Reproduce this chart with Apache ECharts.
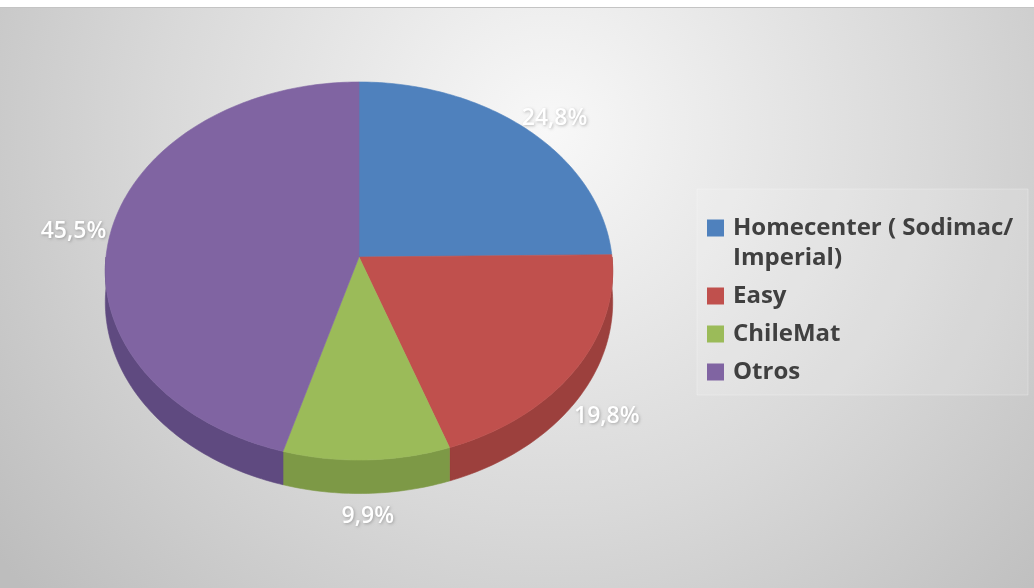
<!DOCTYPE html>
<html><head><meta charset="utf-8">
<script src="https://cdn.jsdelivr.net/npm/echarts@6/dist/echarts.min.js"></script>
<style>html,body{margin:0;padding:0;background:#fff}#c{width:1034px;height:588px}</style>
</head><body><div id="c"></div>
<script>
// ---- data ----
const categories = ['Homecenter ( Sodimac/\nImperial)', 'Easy', 'ChileMat', 'Otros'];
const shares = [24.8, 19.8, 9.9, 45.5];
const colors = ['#4f81bd', '#c0504d', '#9bbb59', '#8064a2'];
const sideColors = ['#3d6597', '#9c403d', '#7d9946', '#5f4a80'];

// ---- layout (perspective-projected disc) ----
const CX = 359, CY = 257, RX = 253, AY = 188, PB = 0.0741, DEPTH = 31;

const total = shares.reduce((a, b) => a + b, 0);
const starts = [];
let acc = 0;
shares.forEach(v => { starts.push(acc / total * 360); acc += v; });

function pt(deg, dy) {
  const a = deg * Math.PI / 180, u = Math.sin(a), v = -Math.cos(a);
  const w = 1 - PB * v;
  return [CX + RX * u / w, CY + AY * v / w + (dy || 0) / w];
}
function fmt(v) { return v.toFixed(1).replace('.', ',') + '%'; }

const chart = echarts.init(document.getElementById('c'));

const graphics = [
  { type: 'rect', z: 0, shape: { x: 0, y: 7, width: 1034, height: 581 },
    style: { fill: new echarts.graphic.RadialGradient(0.53, 0.21, 1.2, [
      { offset: 0, color: '#f8f8f8' }, { offset: 0.55, color: '#d9d9d9' }, { offset: 1, color: '#bdbdbd' }]) } },
  { type: 'rect', z: 0, shape: { x: 0, y: 7, width: 1034, height: 1 }, style: { fill: '#c4c4c4' } },
  { type: 'rect', z: 1, shape: { x: 697, y: 189, width: 331, height: 206 },
    style: { fill: 'rgba(255,255,255,0.13)', stroke: 'rgba(255,255,255,0.25)', lineWidth: 1 } }
];
const rowCenters = [228, 296, 334, 372];
categories.forEach((name, i) => {
  graphics.push({ type: 'rect', z: 5, shape: { x: 707, y: rowCenters[i] - 8.5, width: 17, height: 17 },
    style: { fill: colors[i] } });
  graphics.push({ type: 'text', z: 5, x: 733, y: rowCenters[i] - 15,
    style: { text: name, fill: '#404040', fontFamily: 'Open Sans', fontWeight: 'bold', fontSize: 24,
      lineHeight: 30, verticalAlign: 'top', align: 'left' } });
});

chart.setOption({
  animation: false,
  graphic: graphics,
  series: [{
    type: 'custom',
    coordinateSystem: 'none',
    z: 2,
    data: shares.map((v, i) => ({ name: categories[i], value: v })),
    renderItem: function (params, api) {
      const i = params.dataIndex;
      const v = api.value(0);
      const a0 = starts[i], a1 = a0 + v / total * 360;
      const children = [];
      const top = [[CX, CY]];
      for (let a = a0; a < a1; a += 1) top.push(pt(a));
      top.push(pt(a1));
      children.push({ type: 'polygon', z2: 10, shape: { points: top },
        style: { fill: colors[i], stroke: colors[i], lineWidth: 0.6 } });
      const s0 = Math.max(a0, 90), s1 = Math.min(a1, 270);
      if (s1 > s0) {
        const pts = [];
        for (let a = s0; a < s1; a += 1) pts.push(pt(a));
        pts.push(pt(s1));
        for (let a = s1; a > s0; a -= 1) pts.push(pt(a, DEPTH));
        pts.push(pt(s0, DEPTH));
        children.push({ type: 'polygon', z2: 1, shape: { points: pts },
          style: { fill: sideColors[i], stroke: sideColors[i], lineWidth: 0.6 } });
      }
      const mid = (a0 + a1) / 2, r = mid * Math.PI / 180;
      const u = Math.sin(r), w = -Math.cos(r);
      const rim = pt(mid);
      const lx = rim[0] + u * 38;
      const ly = rim[1] + w * 20 + 3 + (w > 0 ? DEPTH / (1 - PB * w) : 0);
      children.push({ type: 'text', z2: 20, x: lx, y: ly,
        style: { text: fmt(v), fill: '#ffffff', fontFamily: 'Open Sans', fontWeight: 600, fontSize: 23,
          align: 'center', verticalAlign: 'middle',
          textShadowColor: 'rgba(0,0,0,0.25)', textShadowBlur: 3, textShadowOffsetX: 1, textShadowOffsetY: 1 } });
      return { type: 'group', children: children };
    }
  }]
});
</script></body></html>
